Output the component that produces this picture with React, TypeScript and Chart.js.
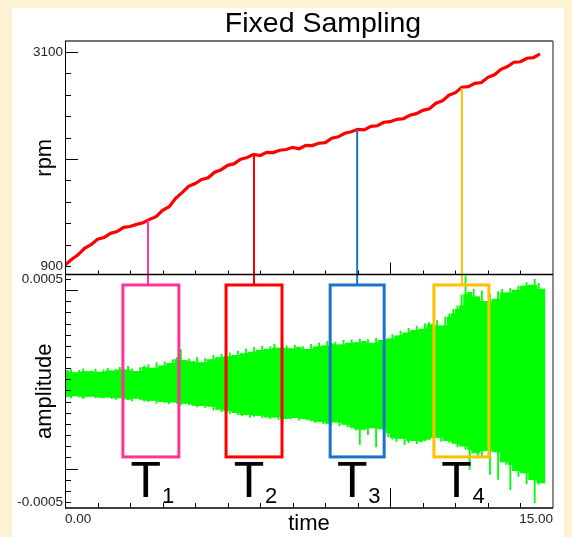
import React, { useEffect, useRef } from "react";
import { Chart, registerables } from "chart.js";

Chart.register(...registerables);

const FONT = "'Liberation Sans', Arial, Helvetica, sans-serif";

const TITLE = "Fixed Sampling";
const X_TITLE = "time";
const RPM_TITLE = "rpm";
const AMP_TITLE = "amplitude";

// x axis (time)
const X_MIN = 0;
const X_MAX = 15;
const xLabelTicks = [0, 15];
const xLabelText = ["0.00", "15.00"];
const xMinorTicks = [1, 2, 3, 4, 5, 6, 7, 8, 9, 10, 11, 12, 13, 14];
const xLongTicks = [10];

// rpm axis (top panel)
const RPM_MIN = 813;
const RPM_MAX = 3213;
const rpmLabelTicks = [900, 3100];
const rpmLabelText = ["900", "3100"];
const rpmMinorTicks = [900, 1120, 1340, 1560, 1780, 2000, 2220, 2440, 2660, 2880, 3100];
const rpmLongTicks = [2000, 3100];

// amplitude axis (bottom panel), in units of 1e-6
const AMP_MIN = -527;
const AMP_MAX = 520;
const ampLabelTicks = [-500, 500];
const ampLabelText = ["-0.0005", "0.0005"];
const ampMinorTicks = [-500, -450, -400, -350, -300, -250, -200, -150, -100, -50, 0, 50, 100, 150, 200, 250, 300, 350, 400, 450, 500];
const ampLongTicks = [450, -350];

// rpm series, sampled every 0.2 s
const rpmStep = 0.2;
const rpmValues = [
  910, 968, 1015, 1082, 1120, 1175, 1192, 1236, 1255, 1298,
  1306, 1328, 1345, 1380, 1408, 1472, 1510, 1596, 1655, 1720,
  1748, 1790, 1808, 1864, 1890, 1935, 1952, 1998, 2015, 2048,
  2036, 2068, 2066, 2090, 2098, 2120, 2106, 2140, 2138, 2162,
  2168, 2214, 2228, 2265, 2280, 2305, 2300, 2336, 2342, 2378,
  2384, 2408, 2414, 2450, 2466, 2500, 2516, 2573, 2598, 2656,
  2682, 2738, 2744, 2778, 2786, 2840, 2866, 2922, 2950, 2995,
  3000, 3036, 3042, 3080,
];

// vibration signal: per 0.125 s slot, the positive peak and negative trough (1e-6 units)
const sigStep = 0.0625;
const sigPeaks = [
  88, 95, 80, 92, 99, 85, 90, 97, 83, 94,
  101, 88, 96, 105, 92, 110, 98, 86, 104, 112,
  118, 100, 126, 110, 131, 122, 140, 149, 185, 135,
  142, 130, 150, 125, 146, 138, 160, 148, 165, 152,
  170, 158, 178, 165, 188, 172, 195, 180, 200, 186,
  198, 210, 190, 216, 202, 188, 205, 195, 198, 185,
  208, 196, 215, 200, 222, 210, 218, 205, 226, 212,
  228, 215, 232, 220, 230, 212, 235, 225, 240, 232,
  252, 245, 268, 258, 280, 270, 290, 275, 300, 306,
  296, 315, 290, 330, 345, 365, 380, 430, 514, 440,
  455, 420, 448, 400, 432, 410, 445, 455, 438, 460,
  450, 470, 468, 485, 472, 500, 482, 455,
];
const sigTroughs = [
  -28, -35, -25, -32, -38, -30, -27, -34, -31, -36,
  -30, -38, -42, -33, -45, -40, -48, -36, -44, -50,
  -52, -45, -58, -50, -56, -62, -53, -60, -66, -58,
  -65, -70, -75, -68, -80, -72, -90, -85, -98, -92,
  -105, -100, -110, -115, -108, -122, -118, -112, -125, -120,
  -128, -120, -132, -144, -126, -130, -122, -135, -128, -133,
  -138, -145, -140, -150, -148, -155, -142, -160, -152, -165,
  -170, -180, -243, -175, -200, -168, -255, -172, -190, -210,
  -220, -230, -215, -245, -235, -225, -240, -232, -228, -222,
  -215, -210, -230, -225, -234, -240, -255, -250, -266, -356,
  -280, -293, -300, -270, -378, -275, -400, -320, -333, -446,
  -360, -387, -370, -420, -400, -505, -423, -414,
];

// analysis windows T1..T4
const boxNames = ["1", "2", "3", "4"];
const boxStart = [1.78, 4.95, 8.15, 11.34];
const boxEnd = [3.5, 6.67, 9.81, 13.03];
const boxLink = [2.55, 5.81, 8.98, 12.2];
const boxLinkRpm = [1373, 2041, 2298, 2730];
const boxTop = 473;
const boxBottom = -298;
const boxColors = ["#ff3399", "#ff0000", "#1a74c8", "#ffc000"];

const overlayPlugin = {
  id: "overlay",
  afterDatasetsDraw(chart: any) {
    const ctx = chart.ctx as CanvasRenderingContext2D;
    const { left, right, top, bottom } = chart.chartArea;
    const xs = chart.scales.x;
    const yr = chart.scales.yRpm;
    const ya = chart.scales.yAmp;
    const mid = yr.bottom;
    ctx.save();

    // windows, connectors and labels
    for (let i = 0; i < boxNames.length; i++) {
      const x0 = xs.getPixelForValue(boxStart[i]);
      const x1 = xs.getPixelForValue(boxEnd[i]);
      const xc = xs.getPixelForValue(boxLink[i]);
      const yT = ya.getPixelForValue(boxTop);
      const yB = ya.getPixelForValue(boxBottom);
      const yC = yr.getPixelForValue(boxLinkRpm[i]);
      ctx.strokeStyle = boxColors[i];
      ctx.lineWidth = 2;
      ctx.beginPath();
      ctx.moveTo(xc, yT);
      ctx.lineTo(xc, yC);
      ctx.stroke();
      ctx.lineWidth = 3;
      ctx.strokeRect(x0, yT, x1 - x0, yB - yT);

      const cx = (x0 + x1) / 2 - 5;
      ctx.fillStyle = "#000";
      ctx.font = `50px ${FONT}`;
      ctx.textAlign = "center";
      ctx.textBaseline = "alphabetic";
      ctx.fillText("T", cx, yB + 40);
      ctx.font = `22px ${FONT}`;
      ctx.textAlign = "left";
      ctx.fillText(boxNames[i], cx + 16, yB + 46);
    }

    // frame
    ctx.lineWidth = 1.5;
    ctx.strokeStyle = "#444";
    ctx.beginPath();
    ctx.moveTo(left, top);
    ctx.lineTo(right, top);
    ctx.stroke();
    ctx.strokeStyle = "#666";
    ctx.beginPath();
    ctx.moveTo(right, top);
    ctx.lineTo(right, bottom);
    ctx.stroke();
    ctx.strokeStyle = "#000";
    ctx.beginPath();
    ctx.moveTo(left, mid);
    ctx.lineTo(right, mid);
    ctx.moveTo(left, bottom);
    ctx.lineTo(right, bottom);
    ctx.stroke();
    ctx.lineWidth = 1;
    ctx.beginPath();
    ctx.moveTo(left + 0.5, top);
    ctx.lineTo(left + 0.5, bottom);
    ctx.stroke();

    // ticks
    ctx.beginPath();
    for (const v of rpmMinorTicks) {
      const y = Math.round(yr.getPixelForValue(v)) + 0.5;
      const len = rpmLongTicks.includes(v) ? 13 : 6;
      ctx.moveTo(left, y);
      ctx.lineTo(left + len, y);
    }
    for (const v of ampMinorTicks) {
      const y = Math.round(ya.getPixelForValue(v)) + 0.5;
      const len = ampLongTicks.includes(v) ? 13 : 6;
      ctx.moveTo(left, y);
      ctx.lineTo(left + len, y);
    }
    for (const t of xMinorTicks) {
      const x = Math.round(xs.getPixelForValue(t)) + 0.5;
      const long = xLongTicks.includes(t);
      ctx.moveTo(x, mid);
      ctx.lineTo(x, mid - (long ? 12 : 4));
      ctx.moveTo(x, bottom);
      ctx.lineTo(x, bottom - (long ? 20 : 5));
    }
    ctx.stroke();

    // title
    ctx.fillStyle = "#000";
    ctx.font = `28.5px ${FONT}`;
    ctx.textAlign = "center";
    ctx.textBaseline = "alphabetic";
    ctx.fillText(TITLE, (left + right) / 2 + 14, 24);

    ctx.restore();
  },
};

export default function App() {
  const ref = useRef<HTMLCanvasElement>(null);

  useEffect(() => {
    const canvas = ref.current!;
    const rpmData = rpmValues.map((v, i) => ({ x: i * rpmStep, y: v }));

    // each swing of the trace, drawn as a thin vertical stroke
    const sigSwings = sigPeaks.map((p, k) => ({ x: (2 * k + 1) * sigStep, y: [sigTroughs[k], p] }));
    // solid body of the trace: the range shared by neighbouring swings
    const sigCore = sigPeaks.map((p, k) => {
      const k0 = Math.max(k - 1, 0);
      const k2 = Math.min(k + 1, sigPeaks.length - 1);
      return {
        x: (2 * k + 1) * sigStep,
        y: [
          Math.max(sigTroughs[k0], sigTroughs[k], sigTroughs[k2]),
          Math.min(sigPeaks[k0], p, sigPeaks[k2]),
        ],
      };
    });

    const tickFont = { family: FONT, size: 13.5 };
    const titleFont = { family: FONT, size: 22 };

    const chart = new Chart(canvas, {
      type: "line",
      data: {
        datasets: [
          {
            type: "line",
            label: "rpm",
            data: rpmData,
            yAxisID: "yRpm",
            borderColor: "#ff0000",
            borderWidth: 3.2,
            pointRadius: 0,
            tension: 0,
          },
          {
            type: "bar",
            label: "amplitude",
            data: sigSwings,
            yAxisID: "yAmp",
            backgroundColor: "#00ff00",
            borderWidth: 0,
            barPercentage: 0.45,
            categoryPercentage: 1,
            grouped: false,
          },
          {
            type: "bar",
            label: "amplitude body",
            data: sigCore,
            yAxisID: "yAmp",
            backgroundColor: "#00ff00",
            borderWidth: 0,
            barPercentage: 1,
            categoryPercentage: 1,
            grouped: false,
          },
        ],
      },
      options: {
        responsive: false,
        animation: false,
        events: [],
        layout: { padding: { top: 33, right: 11, left: 0, bottom: 0 } },
        plugins: { legend: { display: false }, tooltip: { enabled: false }, title: { display: false } },
        scales: {
          x: {
            type: "linear",
            position: "bottom",
            offset: false,
            min: X_MIN,
            max: X_MAX,
            afterBuildTicks: (s: any) => {
              s.ticks = xLabelTicks.map((v) => ({ value: v }));
            },
            afterFit: (s: any) => {
              s.height = 29;
            },
            ticks: {
              autoSkip: false,
              maxRotation: 0,
              align: "inner",
              padding: 3,
              color: "#222",
              font: tickFont,
              callback: (_v: any, i: number) => xLabelText[i],
            },
            grid: { display: false, drawTicks: false, offset: false },
            border: { display: false },
            title: { display: true, text: X_TITLE, color: "#000", font: titleFont, padding: { top: 0, bottom: 0 } },
          },
          yAmp: {
            type: "linear",
            position: "left",
            stack: "panels",
            stackWeight: 1,
            min: AMP_MIN,
            max: AMP_MAX,
            afterBuildTicks: (s: any) => {
              s.ticks = ampLabelTicks.map((v) => ({ value: v }));
            },
            afterFit: (s: any) => {
              s.width = 53;
            },
            ticks: {
              autoSkip: false,
              padding: 2,
              color: "#222",
              font: tickFont,
              callback: (_v: any, i: number) => ampLabelText[i],
            },
            grid: { display: false, drawTicks: false },
            border: { display: false },
            title: { display: true, text: AMP_TITLE, color: "#000", font: titleFont, padding: { top: 20, bottom: 0 } },
          },
          yRpm: {
            type: "linear",
            position: "left",
            stack: "panels",
            stackWeight: 1,
            min: RPM_MIN,
            max: RPM_MAX,
            afterBuildTicks: (s: any) => {
              s.ticks = rpmLabelTicks.map((v) => ({ value: v }));
            },
            afterFit: (s: any) => {
              s.width = 53;
            },
            ticks: {
              autoSkip: false,
              padding: 2,
              color: "#222",
              font: tickFont,
              callback: (_v: any, i: number) => rpmLabelText[i],
            },
            grid: { display: false, drawTicks: false },
            border: { display: false },
            title: { display: true, text: RPM_TITLE, color: "#000", font: titleFont, padding: { top: 20, bottom: 0 } },
          },
        },
      },
      plugins: [overlayPlugin],
    } as any);

    return () => chart.destroy();
  }, []);

  return (
    <div style={{ position: "fixed", left: 0, top: 0, width: 572, height: 537, background: "#fef2d4", overflow: "hidden" }}>
      <div style={{ position: "absolute", left: 12, top: 8, width: 552, height: 529, background: "#ffffff" }}>
        <canvas ref={ref} width={552} height={529} style={{ display: "block" }} />
      </div>
    </div>
  );
}
